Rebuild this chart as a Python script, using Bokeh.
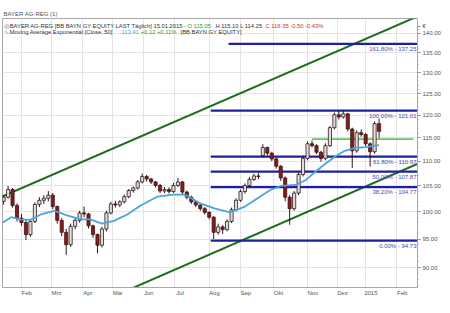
from bokeh.plotting import figure
from bokeh.models import Range1d, FixedTicker, Label, ColumnDataSource
from bokeh.embed import file_html
from bokeh.resources import INLINE

# ---------------- data ----------------
# x unit = trading day, 0 = first trading day of Feb 2014
month_labels = ["Feb", "Mrz", "Apr", "Mai", "Jun", "Jul", "Aug", "Sep", "Okt", "Nov", "Dez", "2015", "Feb"]
month_start_day = [0, 20, 41, 61, 82, 103, 126, 147, 169, 192, 212, 231, 252]

price_ticks = [90, 95, 100, 105, 110, 115, 120, 125, 130, 135, 140]
price_tick_labels = ["90.00", "95.00", "100.00", "105.00", "110.00", "115.00",
                     "120.00", "125.00", "130.00", "135.00", "140.00"]
currency_tick = 141.9
currency_label = "\u20ac"

bar_day = list(range(-12, 241, 3))
bar_open = [102.0, 102.8, 104.3, 101.2, 98.8, 98.0, 95.8, 98.2, 101.4, 102.2,
            102.6, 103.2, 101.0, 98.4, 96.2, 94.0, 97.3, 98.4, 99.8, 99.6,
            97.4, 95.8, 93.9, 96.8, 99.8, 101.5, 101.3, 101.9, 102.9, 104.1,
            104.6, 105.8, 106.9, 106.4, 105.8, 105.1, 104.0, 104.3, 103.9, 105.1,
            105.8, 103.8, 102.8, 101.9, 101.3, 100.6, 99.9, 99.0, 96.2, 97.2,
            96.7, 98.2, 100.4, 102.2, 103.9, 105.1, 106.3, 107.0, 111.2, 112.9,
            111.7, 110.5, 109.0, 106.6, 102.8, 100.6, 103.6, 107.3, 110.6, 113.7,
            113.3, 111.9, 110.6, 113.3, 117.2, 120.1, 119.6, 120.3, 116.9, 112.2,
            116.1, 115.7, 113.7, 112.0, 118.1]
bar_high = [103.2, 105.0, 104.6, 101.6, 99.6, 98.4, 98.6, 101.8, 102.8, 103.2,
            104.0, 103.6, 101.2, 98.8, 96.8, 97.8, 98.9, 100.2, 101.0, 99.8,
            97.6, 96.0, 97.2, 100.2, 101.9, 102.1, 102.2, 103.3, 104.4, 104.9,
            106.2, 107.5, 107.2, 106.6, 106.0, 105.4, 104.8, 104.7, 105.6, 106.6,
            106.0, 104.1, 103.1, 102.2, 101.6, 100.9, 100.1, 99.2, 97.8, 97.5,
            98.6, 100.8, 102.6, 104.3, 105.5, 106.8, 107.4, 107.6, 113.6, 113.1,
            112.0, 110.8, 109.2, 106.9, 103.2, 104.0, 107.8, 111.2, 114.2, 114.4,
            113.6, 112.2, 113.8, 117.6, 120.6, 121.0, 121.0, 120.5, 117.2, 116.6,
            116.8, 116.0, 114.0, 118.6, 119.2]
bar_low = [101.4, 102.5, 100.8, 98.2, 97.4, 94.8, 95.4, 97.9, 100.9, 101.5,
           102.0, 100.5, 97.8, 95.5, 92.2, 93.6, 96.8, 98.0, 99.0, 96.9,
           95.2, 92.5, 93.5, 96.4, 99.5, 100.8, 100.9, 101.6, 102.6, 103.7,
           104.3, 105.5, 105.9, 105.4, 104.7, 103.6, 103.6, 103.5, 103.6, 104.8,
           103.4, 102.4, 101.5, 100.9, 100.2, 99.5, 98.6, 95.0, 95.8, 95.9,
           96.4, 97.9, 100.1, 101.9, 103.5, 104.8, 106.0, 106.4, 110.8, 111.2,
           110.0, 108.5, 106.0, 102.0, 97.6, 100.2, 103.2, 106.9, 110.2, 112.9,
           111.5, 109.9, 110.2, 113.0, 116.8, 119.0, 119.2, 116.4, 108.6, 111.8,
           115.2, 113.2, 108.9, 111.6, 115.0]
bar_close = [102.8, 104.3, 101.2, 98.8, 98.0, 95.8, 98.2, 101.4, 102.2, 102.6,
             103.2, 101.0, 98.4, 96.2, 94.0, 97.3, 98.4, 99.8, 99.6, 97.4,
             95.8, 93.9, 96.8, 99.8, 101.5, 101.3, 101.9, 102.9, 104.1, 104.6,
             105.8, 106.9, 106.4, 105.8, 105.1, 104.0, 104.3, 103.9, 105.1, 105.8,
             103.8, 102.8, 101.9, 101.3, 100.6, 99.9, 99.0, 96.2, 97.2, 96.7,
             98.2, 100.4, 102.2, 103.9, 105.1, 106.3, 107.0, 106.9, 112.9, 111.7,
             110.5, 109.0, 106.6, 102.8, 100.6, 103.6, 107.3, 110.6, 113.7, 113.3,
             111.9, 110.6, 113.3, 117.2, 120.1, 119.6, 120.3, 116.9, 112.2, 116.1,
             115.7, 113.7, 112.0, 118.1, 116.4]

ema_day = [-13, -7, -1, 6, 13, 22, 31, 40, 46, 54, 62, 71, 80, 91, 102, 109, 113,
           120, 130, 140, 150, 160, 167, 174, 184, 191, 197, 204, 211, 217, 224, 231, 240]
ema_value = [97.9, 99.0, 98.6, 98.5, 99.5, 100.2, 99.3, 98.6, 98.6, 97.8, 98.3,
             99.5, 101.2, 102.9, 103.3, 103.3, 102.8, 101.6, 100.6, 99.9, 101.0,
             102.9, 104.2, 105.0, 105.2, 106.2, 107.8, 109.5, 111.1, 112.2, 112.8,
             113.0, 113.4]

fib_pct = ["161.80%", "100.00%", "61.80%", "50.00%", "38.20%", "0.00%"]
fib_level = [137.25, 121.01, 110.97, 107.87, 104.77, 94.73]
fib_start_day = [139, 127, 127, 127, 127, 127]
fib_end_day = 265.8

channel_upper_day = [-14, 266]
channel_upper_value = [102.8, 144.6]
channel_lower_day = [66, 266]
channel_lower_value = [85.7, 109.5]

support_day = [195, 263]
support_value = [114.7, 114.7]

# ---------------- figure ----------------
FONT = "Liberation Sans"
p = figure(width=450, height=313, output_backend="svg", toolbar_location=None,
           y_axis_type="log", y_axis_location="right",
           x_range=Range1d(-12.75, 265.8), y_range=Range1d(86.7, 144.0),
           min_border_left=2, min_border_right=33, min_border_top=18, min_border_bottom=26)
p.background_fill_color = "white"
p.border_fill_color = "white"
p.outline_line_color = "#a8a8a8"

p.title.text = "BAYER AG-REG (1)"
p.title.text_font = FONT
p.title.text_font_size = "6px"
p.title.text_font_style = "normal"
p.title.text_color = "#555555"
p.title.align = "left"
p.title.offset = 1
p.title.standoff = 3

# grid
p.xgrid.ticker = FixedTicker(ticks=month_start_day)
p.ygrid.ticker = FixedTicker(ticks=price_ticks)
p.xgrid.grid_line_color = "#e4e4e4"
p.ygrid.grid_line_color = "#e4e4e4"

# x axis (labels sit just right of month start)
label_pos = [d + 3.5 for d in month_start_day]
p.xaxis.ticker = FixedTicker(ticks=label_pos)
p.xaxis.major_label_overrides = {pos: lab for pos, lab in zip(label_pos, month_labels)}
p.xaxis.major_tick_out = 0
p.xaxis.major_tick_in = 0
p.xaxis.minor_tick_out = 0
p.xaxis.axis_line_color = "#a8a8a8"
p.xaxis.major_label_standoff = 2
p.xaxis.major_label_text_font = FONT
p.xaxis.major_label_text_font_size = "6px"
p.xaxis.major_label_text_color = "#555555"

# y axis
p.yaxis.ticker = FixedTicker(ticks=price_ticks + [currency_tick], minor_ticks=list(range(87, 142)))
overrides = {t: lab for t, lab in zip(price_ticks, price_tick_labels)}
overrides[currency_tick] = currency_label
p.yaxis.major_label_overrides = overrides
p.yaxis.major_tick_out = 3
p.yaxis.major_tick_in = 0
p.yaxis.minor_tick_out = 1
p.yaxis.minor_tick_in = 0
p.yaxis.major_tick_line_color = "#888888"
p.yaxis.minor_tick_line_color = "#aaaaaa"
p.yaxis.axis_line_color = "#a8a8a8"
p.yaxis.major_label_standoff = 2
p.yaxis.major_label_text_font = FONT
p.yaxis.major_label_text_font_size = "6px"
p.yaxis.major_label_text_color = "#555555"

# channel lines
p.line(channel_upper_day, channel_upper_value, line_color="#1f6e1f", line_width=2)
p.line(channel_lower_day, channel_lower_value, line_color="#1f6e1f", line_width=2)

# fibonacci lines
for pct, lvl, x0 in zip(fib_pct, fib_level, fib_start_day):
    p.line([x0, fib_end_day], [lvl, lvl], line_color="#20209a", line_width=2.2)
    p.add_layout(Label(x=fib_end_day, y=lvl, text=f"{pct} - {lvl:.2f}",
                       text_align="right", text_baseline="top", x_offset=-1, y_offset=-2,
                       text_font=FONT, text_font_size="6px", text_color="#4848b0"))

# support line
p.line(support_day, support_value, line_color="#66c266", line_width=1.6)

# candles
n = min(len(bar_day), len(bar_open), len(bar_high), len(bar_low), len(bar_close))
up = [bar_close[i] >= bar_open[i] for i in range(n)]
src = ColumnDataSource(dict(
    x=bar_day[:n], hi=bar_high[:n], lo=bar_low[:n],
    top=[max(bar_open[i], bar_close[i]) for i in range(n)],
    bot=[min(bar_open[i], bar_close[i]) for i in range(n)],
    fill=["#e6dada" if u else "#7e1e1e" for u in up],
    edge=["#2a1c1c" if u else "#441010" for u in up],
))
p.segment(x0="x", y0="lo", x1="x", y1="hi", source=src, line_color="#2a1a1a", line_width=1)
p.vbar(x="x", width=2.1, top="top", bottom="bot", source=src,
       fill_color="fill", line_color="edge", line_width=0.8)

# EMA
p.line(ema_day, ema_value, line_color="#4aa6da", line_width=1.8)

# ---------------- legend texts ----------------
def lab(x, y, text, color="#333333", size="5.8px"):
    p.add_layout(Label(x=x, y=y, text=text, text_font=FONT, text_font_size=size,
                       text_color=color, text_align="left", text_baseline="middle"))

row1, row2 = 141.85, 140.26
lab(-12.0, row1, "\u25ce", color="#555555")
lab(-7.9, row1, "BAYER AG-REG [BB BAYN GY EQUITY LAST Täglich] 15.01.2015 -")
lab(111.4, row1, "O 115.05", color="#2ea02e")
lab(130.2, row1, "H 115.10 L 114.25")
lab(163.8, row1, "C 116.35 -0.50 -0.43%", color="#d03030")
lab(-12.0, row2, "\u223f", color="#4aa6da")
lab(-7.9, row2, "Moving Average Exponential [Close, 50]")
lab(67.1, row2, "113.41", color="#4aa6da")
lab(80.0, row2, "+0.12 +0.11%", color="#2ea02e")
lab(106.8, row2, "[BB BAYN GY EQUITY]")

open("out.html", "w").write(file_html(p, INLINE))
